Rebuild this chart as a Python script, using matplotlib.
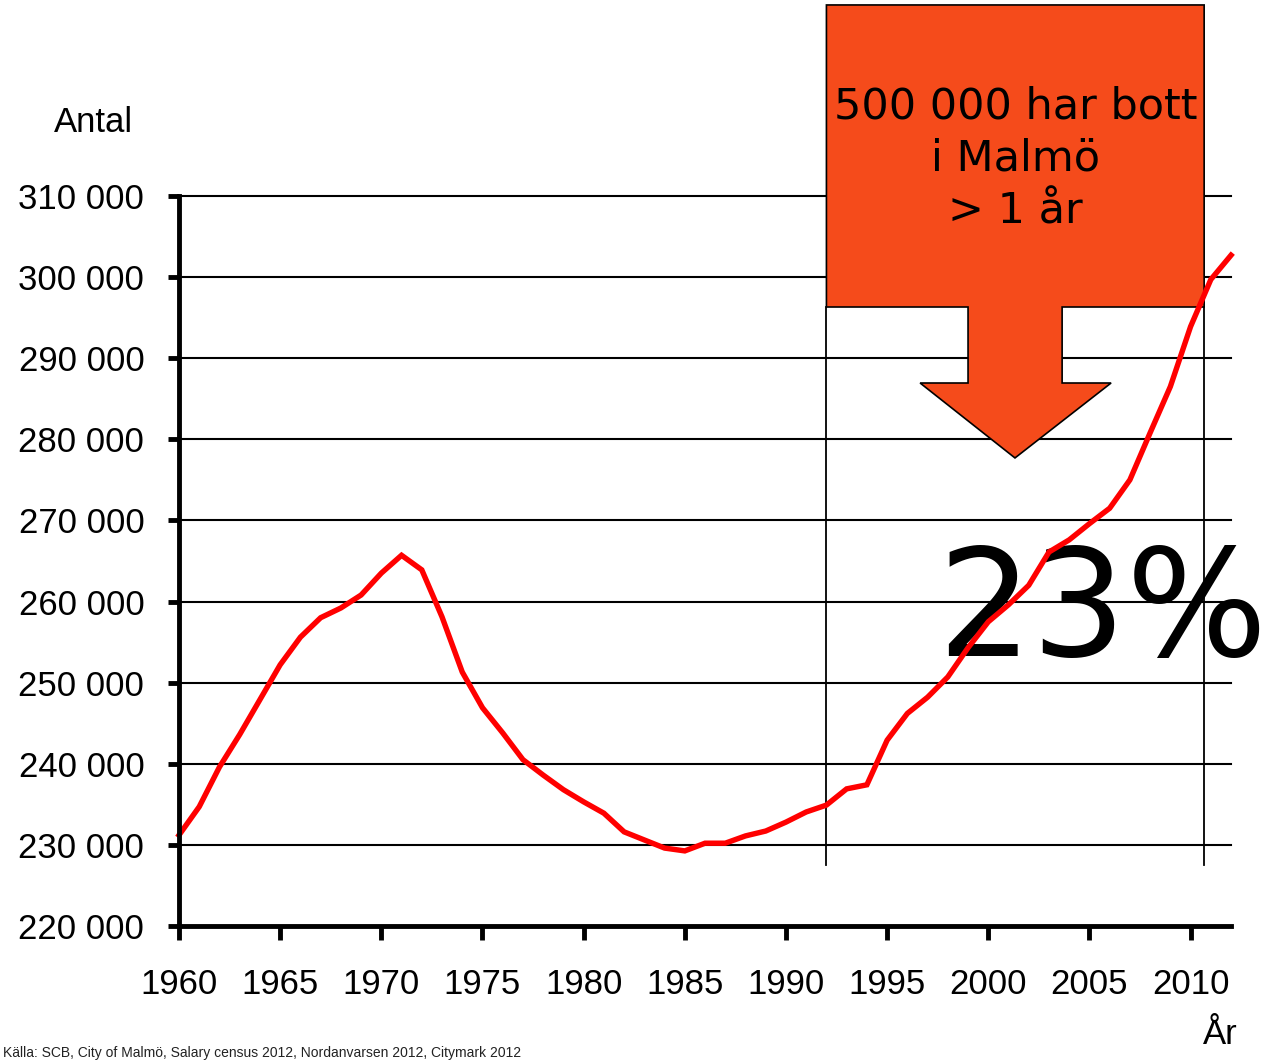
import matplotlib
matplotlib.use("Agg")
import matplotlib.pyplot as plt
from matplotlib.patches import Polygon
from matplotlib.lines import Line2D

# Folkmängd Malmö 1960-2012
years = list(range(1960, 2013))
population = [
    231200, 234700, 239600, 243600, 247900, 252200, 255600, 258000, 259200, 260800,
    263500, 265700, 263900, 258100, 251300, 246900, 243800, 240500, 238600, 236800,
    235300, 233900, 231600, 230600, 229600, 229250, 230200, 230200, 231100, 231700,
    232800, 234050, 234900, 236900, 237400, 242900, 246200, 248200, 250700, 254300,
    257500, 259600, 262000, 266100, 267600, 269600, 271500, 275000, 280800, 286500,
    293900, 299700, 302700,
]
y_ticks = list(range(220000, 310001, 10000))
x_ticks = list(range(1960, 2011, 5))
callout_text = "500 000 har bott\ni Malmö\n> 1 år"
big_text = "23%"
source_text = "Källa: SCB, City of Malmö, Salary census 2012, Nordanvarsen 2012, Citymark 2012"

plt.rcParams["font.family"] = ["Liberation Sans", "DejaVu Sans"]

fig = plt.figure(figsize=(12.66, 10.61), dpi=100)
ax = fig.add_axes([0.1414, 0.1273, 0.9724 - 0.1414, 0.8153 - 0.1273])

# ── rutnät ───────────────────────────────────────────────
for v in y_ticks:
    ax.axhline(v, color="black", linewidth=1.5, zorder=1, clip_on=False)

# ── serien ───────────────────────────────────────────────
ax.plot(years, population, color="#ff0000", linewidth=3.9, zorder=5,
        solid_joinstyle="miter", clip_on=False)

ax.set_xlim(1960, 2012)
ax.set_ylim(220000, 310000)
ax.set_yticks(y_ticks)
ax.set_yticklabels([f"{v:,}".replace(",", " ") for v in y_ticks], fontsize=25)
ax.set_xticks(x_ticks)
ax.set_xticklabels([str(x) for x in x_ticks], fontsize=25)
ax.tick_params(axis="y", direction="out", length=8, width=3.5, pad=17)
ax.tick_params(axis="x", direction="out", length=10, width=3.5, pad=20)

for s in ["top", "right"]:
    ax.spines[s].set_visible(False)
for s in ["left", "bottom"]:
    ax.spines[s].set_linewidth(3.5)
    ax.spines[s].set_zorder(6)

# ── pratbubbla med pil ───────────────────────────────────
box_l, box_r = 1992.0, 2010.67
box_top, box_bot = 333550, 296310
stem_l, stem_r = 1999.0, 2003.65
head_l, head_r = 1996.63, 2006.07
head_y, tip_x, tip_y = 286940, 2001.32, 277700
callout = Polygon(
    [(box_l, box_top), (box_r, box_top), (box_r, box_bot), (stem_r, box_bot),
     (stem_r, head_y), (head_r, head_y), (tip_x, tip_y), (head_l, head_y),
     (stem_l, head_y), (stem_l, box_bot), (box_l, box_bot)],
    closed=True, facecolor="#f54b1b", edgecolor="black", linewidth=1.2,
    zorder=3, clip_on=False)
ax.add_patch(callout)
for xv in [box_l, box_r]:
    ax.add_line(Line2D([xv, xv], [box_bot, 227520], color="black",
                       linewidth=1.3, zorder=2, clip_on=False))
ax.text((box_l + box_r) / 2, 314600, callout_text, ha="center", va="center",
        multialignment="center", fontsize=31, family="DejaVu Sans",
        linespacing=1.32, zorder=7, clip_on=False)
ax.text(1997.45, 253300, big_text, ha="left", va="baseline", fontsize=107,
        family="DejaVu Sans", zorder=4, clip_on=False)

# ── axeltitlar och källa ─────────────────────────────────
fig.text(94 / 1266, 1 - 122 / 1061, "Antal", ha="center", va="center", fontsize=25)
fig.text(1220 / 1266, 1 - 1018 / 1061, "År", ha="center", va="top", fontsize=25)
fig.text(3 / 1266, 1 / 1061, source_text, ha="left", va="bottom", fontsize=10,
         color="#222222")

fig.savefig("out.png", dpi=100)
